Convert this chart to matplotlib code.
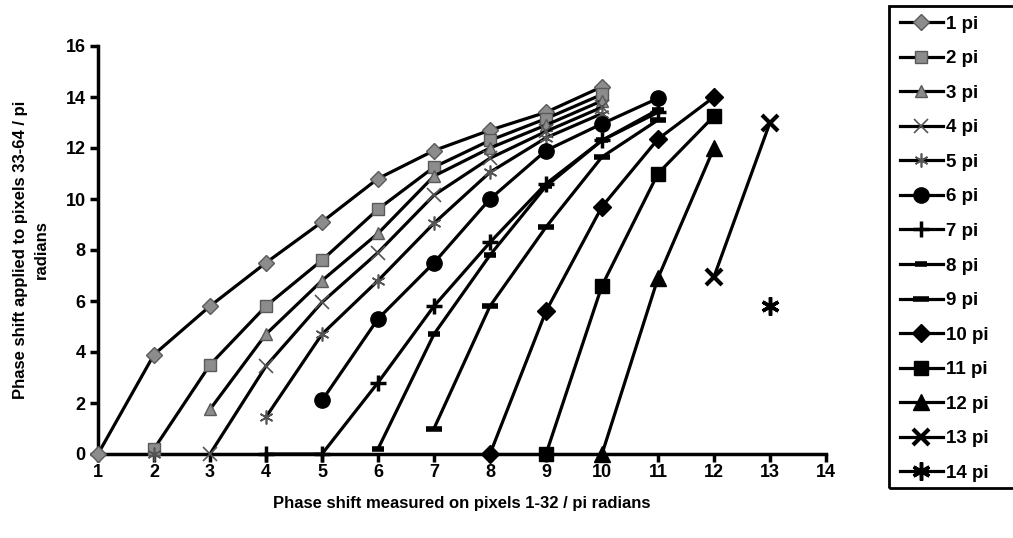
import numpy as np
import matplotlib
matplotlib.use("Agg")
import matplotlib.pyplot as plt
from matplotlib.patches import Rectangle

plt.rcParams['font.family'] = ['Liberation Sans', 'DejaVu Sans']
plt.rcParams['font.weight'] = 'bold'

# phase shift measured on pixels 1-32 (x) for every applied phase (series)
x_vals = list(range(1, 15))
NA = None

pi1 = [0, 3.9, 5.8, 7.5, 9.1, 10.8, 11.9, 12.7, 13.4, 14.4, NA, NA, NA, NA]
pi2 = [NA, 0.2, 3.5, 5.8, 7.6, 9.6, 11.25, 12.3, 13.15, 14.1, NA, NA, NA, NA]
pi3 = [NA, NA, 1.75, 4.7, 6.8, 8.65, 10.9, 12.0, 12.9, 13.85, NA, NA, NA, NA]
pi4 = [NA, NA, 0, 3.45, 5.95, 7.9, 10.15, 11.6, 12.65, 13.6, NA, NA, NA, NA]
pi5 = [NA, 0, NA, 1.45, 4.7, 6.8, 9.05, 11.05, 12.4, 13.35, NA, NA, NA, NA]
pi6 = [NA, NA, NA, NA, 2.1, 5.3, 7.5, 10.0, 11.9, 12.95, 13.95, NA, NA, NA]
pi7 = [NA, NA, NA, 0, 0, 2.8, 5.8, 8.3, 10.6, 12.3, 13.4, NA, NA, NA]
pi8 = [NA, NA, NA, NA, NA, 0.2, 4.7, 7.8, 10.5, 12.3, 13.5, NA, NA, NA]
pi9 = [NA, NA, NA, NA, NA, NA, 1.0, 5.8, 8.9, 11.65, 13.1, NA, NA, NA]
pi10 = [NA, NA, NA, NA, NA, NA, NA, 0, 5.6, 9.7, 12.35, 14.0, NA, NA]
pi11 = [NA, NA, NA, NA, NA, NA, NA, NA, 0, 6.6, 11.0, 13.25, NA, NA]
pi12 = [NA, NA, NA, NA, NA, NA, NA, NA, NA, 0, 6.9, 12.0, NA, NA]
pi13 = [NA, NA, NA, NA, NA, NA, NA, NA, NA, NA, NA, 6.95, 13.0, NA]
pi14 = [NA, NA, NA, NA, NA, NA, NA, NA, NA, NA, NA, NA, 5.8, NA]

series = [pi1, pi2, pi3, pi4, pi5, pi6, pi7, pi8, pi9, pi10, pi11, pi12, pi13, pi14]
labels = ['%d pi' % (i + 1) for i in range(14)]

gray = '#8c8c8c'
gedge = '#5a5a5a'
asterisk = (6, 2, 0)
# marker, size, face, edge, edge width
styles = [
    ('D', 8, gray, gedge, 1.0),
    ('s', 9, gray, gedge, 1.0),
    ('^', 9, gray, gedge, 1.0),
    ('x', 10, gray, '#555555', 1.2),
    (asterisk, 10, gray, '#555555', 1.2),
    ('o', 11, 'black', 'black', 1.0),
    ('+', 12, 'black', 'black', 2.5),
    ('_', 8, 'black', 'black', 4.0),
    ('_', 11, 'black', 'black', 4.0),
    ('D', 9, 'black', 'black', 1.0),
    ('s', 10, 'black', 'black', 1.0),
    ('^', 11, 'black', 'black', 1.0),
    ('x', 11, 'black', 'black', 3.0),
    (asterisk, 13, 'black', 'black', 2.5),
]

fig = plt.figure(figsize=(10.13, 5.38), dpi=100)
ax = fig.add_axes([98 / 1013, 1 - 454 / 538, (826 - 98) / 1013, (454 - 46) / 538])

for ys, lab, (m, ms, fc, ec, mew) in zip(series, labels, styles):
    y = np.array([np.nan if v is None else v for v in ys], dtype=float)
    ax.plot(x_vals, y, color='black', lw=2.3, marker=m, markersize=ms,
            markerfacecolor=fc, markeredgecolor=ec, markeredgewidth=mew,
            label=lab, clip_on=False, zorder=3)

ax.set_xlim(1, 14)
ax.set_ylim(0, 16)
ax.set_xticks(range(1, 15))
ax.set_yticks(range(0, 17, 2))
for s in ['top', 'right']:
    ax.spines[s].set_visible(False)
for s in ['left', 'bottom']:
    ax.spines[s].set_linewidth(2.5)
    ax.spines[s].set_zorder(2)
ax.tick_params(axis='both', direction='out', length=6, width=2.5, labelsize=13)
ax.tick_params(axis='x', pad=1)
ax.tick_params(axis='y', pad=3)
for t in ax.get_xticklabels() + ax.get_yticklabels():
    t.set_fontweight('bold')

ax.set_xlabel('Phase shift measured on pixels 1-32 / pi radians',
              fontsize=12, fontweight='bold', labelpad=11)
ax.set_ylabel('Phase shift applied to pixels 33-64 / pi\nradians',
              fontsize=12, fontweight='bold', labelpad=12, linespacing=1.45)

# legend box runs off the right edge of the figure
fig.patches.append(Rectangle((889 / 1013, 1 - 488 / 538), 0.2, (488 - 6) / 538,
                             transform=fig.transFigure, fill=False,
                             edgecolor='black', linewidth=2, clip_on=False))
leg = fig.legend(loc='upper left', bbox_to_anchor=(892 / 1013, 1 - 8 / 538),
                 frameon=False, prop={'weight': 'bold', 'size': 13.5},
                 labelspacing=0.93, handlelength=2.3, handletextpad=0.2,
                 borderpad=0.4, borderaxespad=0)

fig.savefig('out.png', dpi=100)
